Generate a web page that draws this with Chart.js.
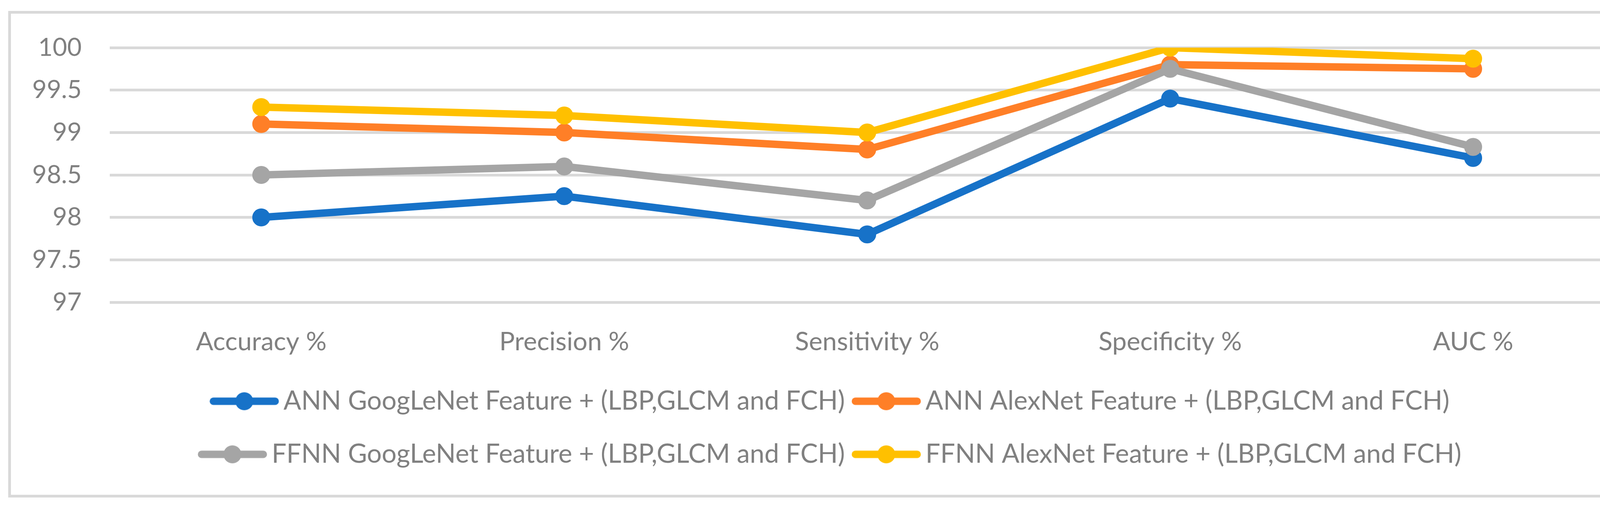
<!DOCTYPE html>
<html>
<head>
<meta charset="utf-8">
<script src="https://cdn.jsdelivr.net/npm/chart.js@4/dist/chart.umd.min.js"></script>
<style>
    html, body { margin: 0; padding: 0; background: #ffffff; }
    #wrap { position: relative; width: 4268px; height: 1306px; }
    #frame {
        position: absolute; left: 21px; top: 28px; width: 4232px; height: 1246px;
        box-sizing: border-box; border: 7px solid #D9D9D9;
    }
    #metricsChart { position: absolute; left: 0; top: 0; }
</style>
</head>
<body>
<div id="wrap">
    <div id="frame"></div>
    <canvas id="metricsChart" width="4268" height="1306"></canvas>
</div>
<script>
// categories and series values
const categories = ['Accuracy %', 'Precision %', 'Sensitivity %', 'Specificity %', 'AUC %'];
const seriesNames = [
    'ANN GoogLeNet Feature + (LBP,GLCM and FCH)',
    'ANN AlexNet Feature + (LBP,GLCM and FCH)',
    'FFNN GoogLeNet Feature + (LBP,GLCM and FCH)',
    'FFNN AlexNet Feature + (LBP,GLCM and FCH)'
];
const annGoogLeNet = [98.0, 98.25, 97.8, 99.4, 98.7];
const annAlexNet = [99.1, 99.0, 98.8, 99.8, 99.75];
const ffnnGoogLeNet = [98.5, 98.6, 98.2, 99.75, 98.83];
const ffnnAlexNet = [99.3, 99.2, 99.0, 100.0, 99.87];
const yTicks = [97, 97.5, 98, 98.5, 99, 99.5, 100];

const colors = ['#1772C8', '#FF7F27', '#A5A5A5', '#FFC000'];
const FONT = 'Lato';
const TEXT = '#808080';

// line-with-marker glyph for the legend
function legendMark(color) {
    const c = document.createElement('canvas');
    c.width = 208;
    c.height = 50;
    const g = c.getContext('2d');
    g.strokeStyle = color;
    g.lineWidth = 19;
    g.lineCap = 'round';
    g.beginPath();
    g.moveTo(10, 25);
    g.lineTo(168, 25);
    g.stroke();
    g.fillStyle = color;
    g.beginPath();
    g.arc(89, 25, 23, 0, Math.PI * 2);
    g.fill();
    return c;
}

// nudge the legend block a bit to the right, the original is not centred
const legendShift = {
    id: 'legendShift',
    afterLayout(chart) {
        chart.legend.left += 40;
        chart.legend.right += 40;
    }
};

document.addEventListener("DOMContentLoaded", () => {
    const canvas = document.getElementById("metricsChart");
    const values = [annGoogLeNet, annAlexNet, ffnnGoogLeNet, ffnnAlexNet];
    const marks = colors.map(legendMark);

    new Chart(canvas, {
        type: 'line',
        data: {
            labels: categories,
            datasets: values.map((v, i) => ({
                label: seriesNames[i],
                data: v,
                borderColor: colors[i],
                backgroundColor: colors[i],
                borderWidth: 19,
                pointRadius: 22,
                pointHoverRadius: 22,
                pointBorderWidth: 2,
                pointBackgroundColor: colors[i],
                pointBorderColor: colors[i],
                tension: 0,
                fill: false,
                order: 3 - i   // later series drawn on top, like the original
            }))
        },
        plugins: [legendShift],
        options: {
            responsive: false,
            animation: false,
            devicePixelRatio: 1,
            layout: { padding: { left: 60, right: 109, top: 122, bottom: 99 } },
            plugins: {
                tooltip: { enabled: false },
                legend: {
                    position: 'bottom',
                    labels: {
                        color: TEXT,
                        font: { family: FONT, size: 67 },
                        padding: 69,
                        usePointStyle: true,
                        pointStyleWidth: 104,
                        sort: (a, b) => a.datasetIndex - b.datasetIndex,
                        generateLabels: (chart) => {
                            const items = Chart.defaults.plugins.legend.labels.generateLabels(chart);
                            items.forEach(it => { it.pointStyle = marks[it.datasetIndex]; });
                            return items;
                        }
                    }
                }
            },
            scales: {
                x: {
                    offset: true,
                    grid: { display: false },
                    border: { display: false },
                    ticks: { color: TEXT, font: { family: FONT, size: 66 }, padding: 54, maxRotation: 0 },
                    afterFit: (scale) => { scale.height = 151; }
                },
                y: {
                    min: 97,
                    max: 100,
                    afterBuildTicks: (scale) => { scale.ticks = yTicks.map(v => ({ value: v })); },
                    grid: { color: '#D9D9D9', lineWidth: 7, drawTicks: false },
                    border: { display: false },
                    ticks: { color: TEXT, font: { family: FONT, size: 64 }, padding: 72, callback: (v) => String(v) },
                    afterFit: (scale) => { scale.width = 221; }
                }
            }
        }
    });
});
</script>
</body>
</html>
